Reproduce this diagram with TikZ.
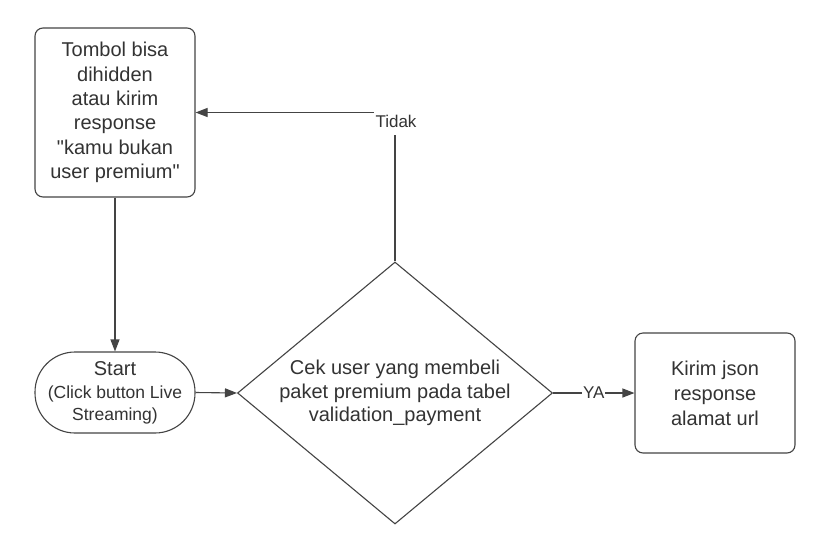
\documentclass[tikz,border=0pt]{standalone}
\usepackage{fontspec}
\setmainfont{Liberation Sans}[Ligatures=TeXOff]
\usetikzlibrary{arrows.meta,shapes.geometric}
\definecolor{txt}{HTML}{333333}
\definecolor{ln}{HTML}{444444}
\tikzset{
  boxstyle/.style={draw=ln, line width=1.1pt, rounded corners=8pt, text=txt, align=center, inner sep=0pt},
  conn/.style={draw=ln, line width=1.1pt, -{Triangle[length=12pt,width=9pt]}},
  lbl/.style={fill=white, text=txt, font=\fontsize{17}{20}\selectfont, inner ysep=3pt}
}
\begin{document}
\begin{tikzpicture}[x=1pt,y=-1pt]
\useasboundingbox[fill=white] (0,0) rectangle (827,555);
\node[boxstyle, minimum width=160pt, minimum height=169pt, font=\fontsize{20}{24.4}\selectfont] (hide) at (115,112.5)
  {Tombol bisa\\dihidden\\atau kirim\\response\\"kamu bukan\\user premium"};
\node[boxstyle, rounded corners=40pt, minimum width=160pt, minimum height=81pt, font=\fontsize{17.5}{22}\selectfont] (start) at (115,392.5)
  {{\fontsize{20}{24}\selectfont Start}\\[1pt](Click button Live\\Streaming)};
\node[draw=ln, line width=1.1pt, shape=diamond, aspect=1.2, inner sep=0pt, minimum width=315pt, minimum height=262pt, text=txt, align=center, font=\fontsize{20}{23.3}\selectfont] (cek) at (395,393)
  {Cek user yang membeli\\paket premium pada tabel\\validation\_payment};
\node[boxstyle, minimum width=160pt, minimum height=120pt, font=\fontsize{20}{25}\selectfont] (kirim) at (715,393)
  {Kirim json\\response\\alamat url};
\draw[conn] (hide.south) -- (start.north);
\draw[conn] (start.east) -- (cek.west);
\draw[conn] (cek.north) |- (hide.east);
\node[lbl, inner xsep=2pt, minimum height=28pt] (tidak) at (396,121) {Tidak};
\draw[conn] (cek.east) -- node[lbl, inner xsep=1pt] (ya) {YA} (kirim.west);
\end{tikzpicture}
\end{document}
